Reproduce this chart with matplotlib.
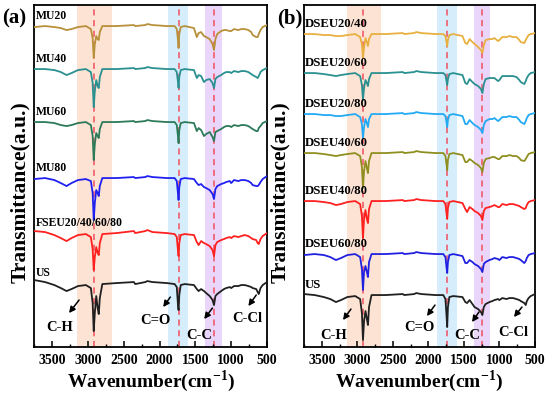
import matplotlib
matplotlib.use("Agg")
import matplotlib.pyplot as plt
from matplotlib.ticker import MultipleLocator

plt.rcParams['font.family'] = ['Liberation Serif', 'DejaVu Serif']
plt.rcParams['font.weight'] = 'bold'
plt.rcParams['mathtext.fontset'] = 'custom'
plt.rcParams['mathtext.rm'] = 'Liberation Serif:bold'
plt.rcParams['mathtext.bf'] = 'Liberation Serif:bold'

# Wavenumber grid (cm-1), shared by all traces
wavenumber = [3750, 3600, 3470, 3380, 3300, 3230, 3140, 3030, 2960, 2935,
              2920, 2905, 2885, 2865, 2850, 2835, 2800, 2600, 2360, 2340,
              2200, 2170, 2100, 1900, 1790, 1760, 1745, 1735, 1725, 1705,
              1650, 1520, 1480, 1455, 1420, 1380, 1350, 1300, 1260, 1240,
              1220, 1195, 1140, 1100, 1070, 1020, 1000, 960, 900, 860,
              810, 760, 720, 700, 650, 630, 615, 590, 560, 500]

# Relative transmittance (a.u.) of each spectrum
a_MU20 = [-1, 0, -1, -2, -4, -3, -1, 0, -3, -12, -32, -18, -10, -13, -14, -6, 0, 0, 1, 0,
          1, 2, 1, 0, 0, -3, -13, -22, -8, -1, 0, -2, -11, -7, -6, -10, -11, -13, -18, -24,
          -13, -8, -5, -4, -4, -5, -5, -3, -4, -3, -3, -4, -6, -9, -11, -11, -8, -4, -1, 1]
a_MU40 = [0, 0, -1, -3, -6, -4, -1, 0, -3, -14, -38, -22, -11, -17, -19, -8, 0, 0, 1, 0,
          1, 2, 1, 0, 0, -3, -12, -19, -8, -1, 0, -1, -9, -6, -7, -13, -11, -10, -14, -19,
          -10, -8, -6, -4, -3, -3, -4, -2, -3, -2, -2, -3, -5, -6, -8, -9, -7, -3, -1, 1]
a_MU60 = [0, 0, -1, -3, -4, -3, -1, 0, -3, -14, -38, -22, -11, -14, -16, -7, 0, 0, 1, 0,
          1, 2, 1, 0, 0, -3, -13, -21, -8, -1, 0, -1, -9, -6, -8, -14, -12, -10, -15, -19,
          -10, -9, -7, -5, -4, -4, -5, -3, -4, -3, -3, -4, -6, -7, -9, -9, -6, -4, -1, 1]
a_MU80 = [-1, 0, -2, -5, -8, -5, -2, -1, -3, -15, -42, -25, -12, -15, -18, -8, 0, 0, 1, 0,
          1, 2, 1, 0, 0, -3, -14, -22, -9, -1, 0, -1, -5, -7, -6, -9, -10, -12, -16, -21,
          -11, -8, -6, -5, -4, -3, -5, -2, -3, -2, -2, -3, -5, -7, -8, -8, -7, -4, -1, 2]
a_FSEU = [2, 1, -2, -5, -8, -5, -2, -1, -4, -16, -37, -24, -14, -20, -22, -10, -1, 0, 2, 0,
          2, 3, 1, 0, -1, -4, -16, -23, -10, -2, -1, -2, -9, -12, -8, -10, -11, -13, -17, -23,
          -12, -9, -7, -6, -5, -4, -5, -3, -4, -3, -2, -3, -5, -6, -7, -10, -11, -6, -3, 0]
a_US = [3, 1, -2, -5, -8, -6, -3, -2, -5, -20, -48, -30, -13, -25, -31, -15, -1, 0, 1, -1,
        1, 2, 1, 0, -1, -4, -20, -27, -12, -2, -1, -2, -6, -8, -6, -8, -10, -13, -17, -22,
        -13, -11, -8, -6, -5, -4, -5, -3, -3, -2, -2, -3, -4, -5, -6, -9, -11, -5, -2, 1]

b_2040 = [0, 0, -1, -1, -2, -2, -1, 0, -3, -10, -24, -14, -4, -8, -12, -5, 0, 0, 1, 0,
          1, 2, 1, 0, 0, -2, -8, -12, -6, -1, 0, -2, -9, -10, -5, -8, -10, -13, -16, -19,
          -11, -6, -5, -5, -4, -7, -6, -3, -3, -2, -3, -3, -6, -8, -9, -6, -4, -1, 0, 1]
b_2060 = [0, 0, -1, -2, -3, -2, -1, 0, -3, -12, -27, -15, -7, -10, -13, -6, 0, 0, 1, 0,
          1, 2, 1, 0, 0, -2, -8, -12, -6, -1, 0, -2, -10, -11, -6, -9, -11, -13, -16, -20,
          -11, -6, -5, -5, -5, -8, -7, -3, -3, -3, -3, -4, -7, -9, -11, -8, -5, -2, 0, 1]
b_2080 = [0, 0, -1, -1, -2, -2, -1, 0, -3, -10, -24, -13, -5, -9, -13, -5, 0, 0, 1, 0,
          1, 2, 1, 0, 0, -2, -8, -13, -6, -1, 0, -2, -10, -10, -6, -9, -11, -13, -16, -19,
          -11, -7, -5, -5, -4, -7, -6, -3, -3, -2, -3, -3, -6, -8, -10, -7, -4, -1, 0, 1]
b_4060 = [0, 0, -1, -2, -3, -2, -1, 0, -3, -14, -35, -18, -8, -15, -20, -8, 0, 0, 1, 0,
          1, 2, 1, 0, 0, -3, -11, -17, -7, -1, 0, -2, -9, -9, -6, -8, -10, -12, -15, -19,
          -10, -6, -5, -4, -4, -6, -6, -3, -3, -2, -3, -3, -5, -7, -8, -6, -4, -1, 0, 1]
b_4080 = [0, 0, -1, -2, -4, -3, -1, 0, -3, -15, -37, -18, -9, -18, -22, -8, 0, 0, 1, 0,
          1, 2, 1, 0, 0, -3, -12, -18, -7, -1, 0, -2, -8, -11, -6, -8, -10, -12, -15, -19,
          -10, -7, -6, -5, -4, -6, -6, -3, -4, -3, -3, -4, -5, -6, -8, -7, -4, -1, 0, 1]
b_6080 = [-1, 0, -1, -3, -6, -4, -1, 0, -3, -15, -36, -18, -12, -18, -23, -8, 0, 0, 1, 0,
          1, 2, 1, 0, 0, -3, -13, -19, -8, -1, 0, -2, -9, -9, -6, -8, -10, -12, -15, -18,
          -10, -8, -6, -5, -4, -5, -6, -3, -4, -3, -3, -4, -5, -6, -9, -7, -4, -1, 0, 1]
b_US = [1, 0, -2, -4, -7, -5, -2, -1, -4, -18, -45, -26, -16, -24, -30, -12, 0, 0, 1, 0,
        1, 2, 1, 0, 0, -4, -20, -32, -12, -2, -1, -2, -7, -8, -5, -9, -12, -14, -17, -20,
        -12, -9, -7, -6, -5, -4, -5, -3, -4, -3, -3, -4, -5, -6, -8, -10, -6, -3, -1, 1]

labels_a = ["MU20", "MU40", "MU60", "MU80", "FSEU20/40/60/80", "US"]
series_a = [a_MU20, a_MU40, a_MU60, a_MU80, a_FSEU, a_US]
colors_a = ["#B8903A", "#2A9090", "#2C7A5A", "#2020F0", "#FF2020", "#202020"]
offsets_a = [321, 278, 225, 169, 114, 64]

labels_b = ["DSEU20/40", "DSEU20/60", "DSEU20/80", "DSEU40/60", "DSEU40/80", "DSEU60/80", "US"]
series_b = [b_2040, b_2060, b_2080, b_4060, b_4080, b_6080, b_US]
colors_b = ["#E8B040", "#2A9090", "#22AAF5", "#8F8F20", "#FF2020", "#2020E0", "#202020"]
offsets_b = [313, 274, 233, 194, 146, 93, 52]

bands = [(3150, 2660, "#FCE3D3"), (1880, 1600, "#D6EEFC"), (1360, 1130, "#EAD6FA")]
peaks = [2920, 1735, 1245]
xticks = [3500, 3000, 2500, 2000, 1500, 1000, 500]

annot_a = [("C-H", (3390, 20), (3125, 47), (3265, 34)),
           ("C=O", (2060, 27), (1850, 50), (1950, 40)),
           ("C-C", (1446, 12), (1262, 39), (1377, 28)),
           ("C-Cl", (775, 29), (650, 52), (760, 41))]
annot_b = [("C-H", (3328, 12), (3089, 38), (3201, 27)),
           ("C=O", (2132, 20), (1907, 42), (2020, 31)),
           ("C-C", (1457, 12), (1288, 35), (1386, 25)),
           ("C-Cl", (810, 15), (683, 40), (796, 30))]

fig = plt.figure(figsize=(5.5, 3.98), dpi=100)
ax_a = fig.add_axes([0.0624, 0.128, 0.423, 0.8593])
ax_b = fig.add_axes([0.5527, 0.128, 0.42, 0.8593])


def draw(ax, labels, series, colors, offsets, annots, tag, lab_fs, tag_x, ylab_x):
    for lo, hi, c in bands:
        ax.axvspan(hi, lo, color=c, lw=0, zorder=0)
    for p in peaks:
        ax.axvline(p, color="#F05060", lw=1.1, ls=(0, (4, 3)), zorder=1)
    for lab, vals, c, off in zip(labels, series, colors, offsets):
        ys = [off + v for v in vals]
        ax.plot(wavenumber, ys, color=c, lw=1.3, zorder=3)
        ax.text(3735, off + 4, lab, fontsize=lab_fs, fontweight='bold',
                ha='left', va='bottom', zorder=4)
    for txt, tpos, tail, head in annots:
        ax.text(tpos[0], tpos[1], txt, fontsize=10.5, fontweight='bold',
                ha='center', va='center', zorder=4)
        ax.annotate("", xy=head, xytext=tail,
                    arrowprops=dict(arrowstyle="-|>", color="black", lw=1.1,
                                    mutation_scale=9, shrinkA=0, shrinkB=0),
                    zorder=4)
    ax.set_xlim(3750, 500)
    ax.set_ylim(0, 342)
    ax.set_yticks([])
    ax.set_xticks(xticks)
    ax.xaxis.set_minor_locator(MultipleLocator(250))
    ax.tick_params(axis='x', which='major', direction='in', length=4, width=1.1,
                   labelsize=10, pad=5)
    ax.tick_params(axis='x', which='minor', direction='in', length=2.5, width=1.0)
    for lab in ax.get_xticklabels():
        lab.set_fontweight('bold')
    for s in ax.spines.values():
        s.set_linewidth(1.3)
    ax.set_xlabel("Wavenumber(cm$^{\\mathbf{-1}}$)", fontsize=14, fontweight='bold', labelpad=1)
    ax.set_ylabel("Transmittance(a.u.)", fontsize=15.5, fontweight='bold')
    ax.yaxis.set_label_coords(ylab_x, 0.453)
    ax.text(tag_x, 0.99, tag, transform=ax.transAxes, fontsize=15,
            fontweight='bold', ha='center', va='top')


draw(ax_a, labels_a, series_a, colors_a, offsets_a, annot_a, "(a)", 8.5, -0.085, -0.02)
draw(ax_b, labels_b, series_b, colors_b, offsets_b, annot_b, "(b)", 9.2, -0.062, -0.06)

fig.savefig("out.png", dpi=100)
